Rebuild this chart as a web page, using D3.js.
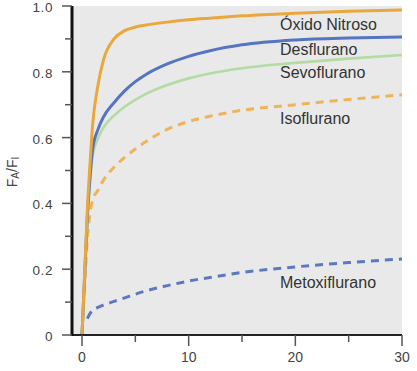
<!DOCTYPE html>
<html><head><meta charset="utf-8">
<script src="https://cdn.jsdelivr.net/npm/d3@7"></script>
<style>
html,body{margin:0;padding:0;background:#fff;}
svg{display:block;font-family:"Liberation Sans",Arial,sans-serif;}
</style></head>
<body><svg id="c" width="417" height="371"></svg>
<script>
const times = [0, 0.25, 0.5, 0.75, 1, 1.5, 2, 3, 4, 5, 6, 8, 10, 12, 15, 20, 25, 30];
const oxidoNitroso = [0, 0.19, 0.38, 0.52, 0.64, 0.76, 0.835, 0.9, 0.925, 0.936, 0.942, 0.951, 0.958, 0.963, 0.97, 0.978, 0.984, 0.988];
const desflurano   = [0, 0.18, 0.36, 0.48, 0.565, 0.625, 0.662, 0.706, 0.742, 0.77, 0.792, 0.824, 0.847, 0.864, 0.882, 0.897, 0.903, 0.906];
const sevoflurano  = [0, 0.17, 0.34, 0.46, 0.545, 0.598, 0.63, 0.667, 0.694, 0.715, 0.733, 0.76, 0.78, 0.795, 0.811, 0.827, 0.84, 0.851];
const isoflurano   = [0, 0.15, 0.29, 0.37, 0.41, 0.44, 0.47, 0.51, 0.54, 0.565, 0.588, 0.625, 0.649, 0.665, 0.683, 0.70, 0.716, 0.73];
const metoxiflurano= [null, null, 0.05, 0.065, 0.075, 0.084, 0.091, 0.102, 0.113, 0.124, 0.134, 0.15, 0.164, 0.175, 0.19, 0.207, 0.22, 0.231];
const seriesNames = ["Óxido Nitroso", "Desflurano", "Sevoflurano", "Isoflurano", "Metoxiflurano"];
const xTicks = [0, 10, 20, 30];
const xMinor = [5, 15, 25];
const yTicks = [0, 0.2, 0.4, 0.6, 0.8, 1.0];
const yTickLabels = ["0", "0.2", "0.4", "0.6", "0.8", "1.0"];
const yMinor = [0.1, 0.3, 0.5, 0.7, 0.9];

const svg = d3.select("#c");
const x = d3.scaleLinear().domain([0, 30]).range([82, 402]);
const y = d3.scaleLinear().domain([0, 1]).range([335, 6]);
const plotLeft = 72;

svg.append("rect").attr("x", plotLeft).attr("y", y(1)).attr("width", x(30) - plotLeft).attr("height", y(0) - y(1)).attr("fill", "#e9e9e9");

const styles = [
  {color: "#eaa83c", w: 3, dash: null},
  {color: "#5575c2", w: 3, dash: null},
  {color: "#b3dba3", w: 2.6, dash: null},
  {color: "#efb35a", w: 3, dash: "8,6"},
  {color: "#5c79c0", w: 3, dash: "8,6"}
];
const allSeries = [oxidoNitroso, desflurano, sevoflurano, isoflurano, metoxiflurano];
const line = d3.line().defined(d => d[1] != null).x(d => x(d[0])).y(d => y(d[1])).curve(d3.curveMonotoneX);

[4, 3, 2, 1, 0].forEach(i => {
  const data = times.map((t, k) => [t, allSeries[i][k]]);
  svg.append("path").attr("d", line(data)).attr("fill", "none")
    .attr("stroke", styles[i].color).attr("stroke-width", styles[i].w)
    .attr("stroke-dasharray", styles[i].dash);
});

const labelY = [24, 49, 72, 118, 282];
seriesNames.forEach((n, i) => {
  svg.append("text").attr("x", 280).attr("y", labelY[i]).attr("dy", "0.35em")
    .attr("font-size", 16).attr("fill", "#333").text(n);
});

const gx = svg.append("g");
gx.append("line").attr("x1", plotLeft - 1).attr("x2", x(30)).attr("y1", y(0)).attr("y2", y(0)).attr("stroke", "#222").attr("stroke-width", 2);
xTicks.forEach((t) => {
  gx.append("line").attr("x1", x(t)).attr("x2", x(t)).attr("y1", y(0)).attr("y2", y(0) + 11).attr("stroke", "#555").attr("stroke-width", 1.5);
  gx.append("text").attr("x", x(t)).attr("y", 357).attr("dy", "0.35em").attr("text-anchor", "middle")
    .attr("font-size", 14).attr("fill", "#444").text(t);
});
xMinor.forEach(t => {
  gx.append("line").attr("x1", x(t)).attr("x2", x(t)).attr("y1", y(0)).attr("y2", y(0) + 7).attr("stroke", "#555").attr("stroke-width", 1.5);
});

const gy = svg.append("g");
gy.append("line").attr("x1", plotLeft).attr("x2", plotLeft).attr("y1", y(1)).attr("y2", y(0) + 1).attr("stroke", "#111").attr("stroke-width", 3);
yTicks.forEach((t, i) => {
  gy.append("line").attr("x1", plotLeft - 10).attr("x2", plotLeft).attr("y1", y(t)).attr("y2", y(t)).attr("stroke", "#555").attr("stroke-width", 1.5);
  gy.append("text").attr("x", 53).attr("y", y(t) + 6).attr("text-anchor", "end")
    .attr("font-size", 13.5).attr("fill", "#444").attr("letter-spacing", "0.6").text(yTickLabels[i]);
});
yMinor.forEach(t => {
  gy.append("line").attr("x1", plotLeft - 7).attr("x2", plotLeft).attr("y1", y(t)).attr("y2", y(t)).attr("stroke", "#555").attr("stroke-width", 1.5);
});

const yt = svg.append("text").attr("transform", "translate(17,172) rotate(-90)").attr("text-anchor", "middle")
  .attr("font-size", 14).attr("fill", "#444");
yt.append("tspan").text("F");
yt.append("tspan").attr("font-size", 10).attr("dy", 2).text("A");
yt.append("tspan").attr("dy", -2).text("/F");
yt.append("tspan").attr("font-size", 10).attr("dy", 2).text("I");
</script></body></html>
